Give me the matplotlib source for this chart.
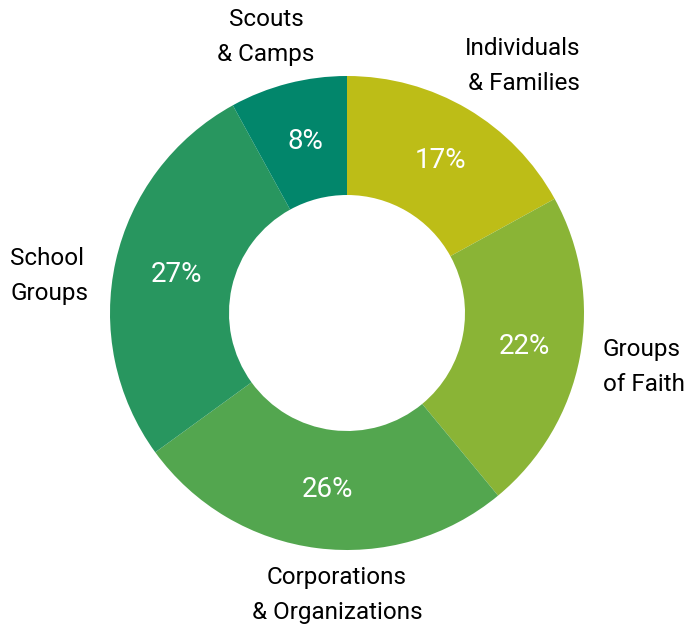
import matplotlib
matplotlib.use("Agg")
import matplotlib.pyplot as plt
import numpy as np

# data, clockwise from 12 o'clock
labels = ["Individuals\n& Families", "Groups\nof Faith", "Corporations\n& Organizations",
          "School\nGroups", "Scouts\n& Camps"]
shares = [17, 22, 26, 27, 8]
colors = ["#BDBD17", "#8AB436", "#53A64F", "#28965F", "#02866B"]

# label anchor (pixel x, pixel y from top, horizontal alignment)
label_pos = [(580, 66, "right"), (603, 367, "left"), (337, 595, "center"),
             (10, 276, "left"), (266, 37, "center")]

plt.rcParams['font.family'] = ['Roboto', 'DejaVu Sans']

W, H = 688, 624
cx, cy, R, ring = 347, H - 313, 237, 119

fig = plt.figure(figsize=(W / 100, H / 100), dpi=100)
ax = fig.add_axes([0, 0, 1, 1])

wedges, texts = ax.pie(
    shares, colors=colors, startangle=90, counterclock=False,
    center=(cx, cy), radius=R, frame=True,
    wedgeprops=dict(width=ring, edgecolor="none"),
)

# percentages in the middle of the ring
for w, s in zip(wedges, shares):
    ang = np.deg2rad((w.theta1 + w.theta2) / 2)
    r = R - ring / 2
    ax.text(cx + r * np.cos(ang) + 3, cy + r * np.sin(ang), f"{s}%",
            ha="center", va="center", color="white", fontsize=20)

for lab, (x, y, ha) in zip(labels, label_pos):
    ax.text(x, H - y, lab, ha=ha, va="center", fontsize=17.5, color="black",
            multialignment=ha, linespacing=1.65)

ax.set_xlim(0, W)
ax.set_ylim(0, H)
ax.set_aspect("equal")
ax.axis("off")

fig.savefig("out.png", dpi=100)
